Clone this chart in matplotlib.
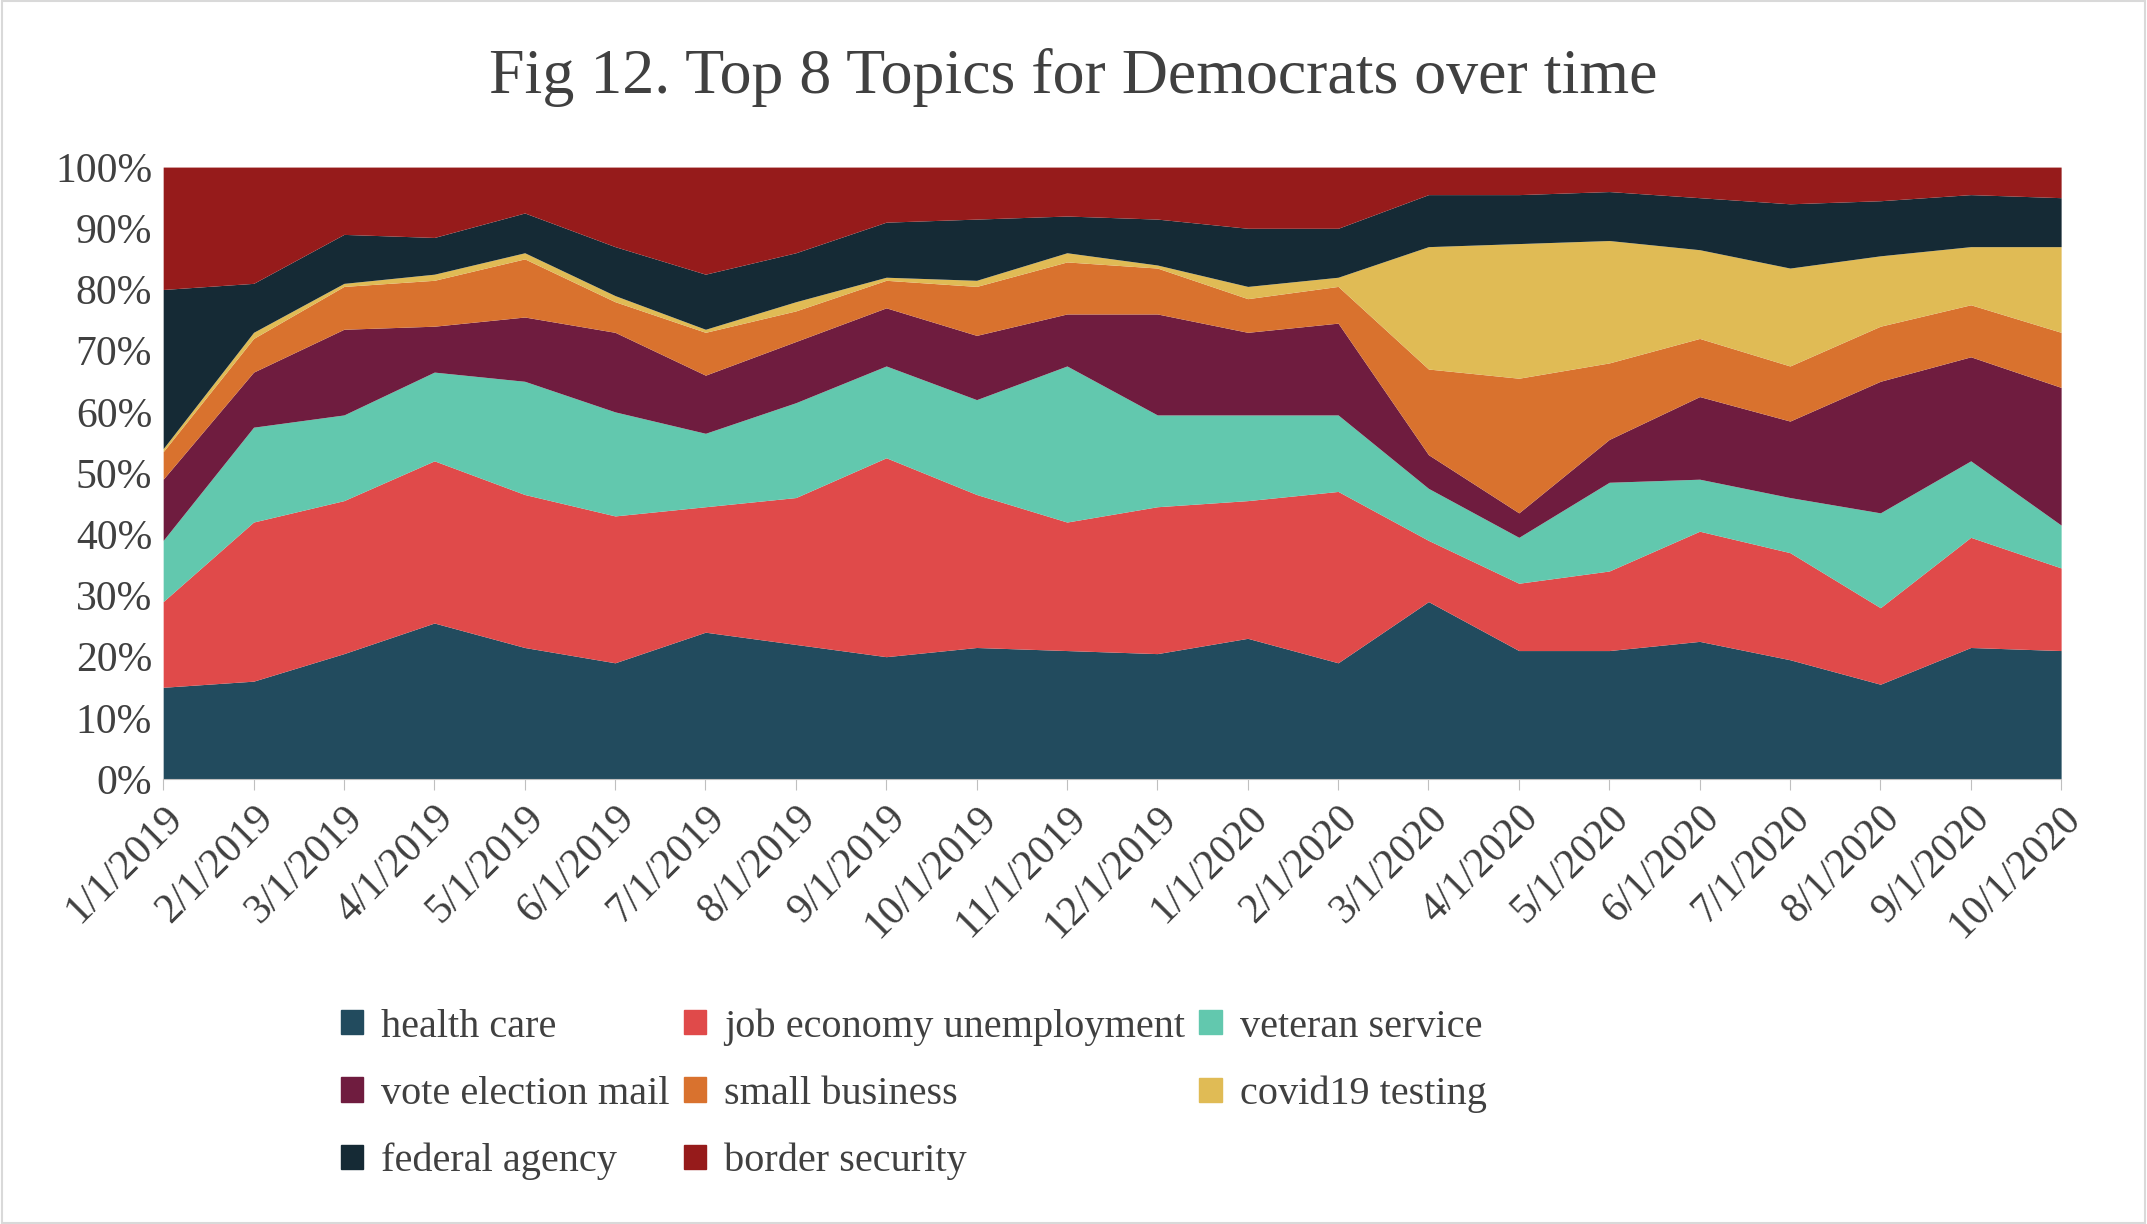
import numpy as np
import matplotlib.pyplot as plt
from matplotlib.patches import Patch, Rectangle

plt.rcParams['font.family'] = ['Liberation Serif', 'DejaVu Serif']

dates = ['1/1/2019', '2/1/2019', '3/1/2019', '4/1/2019', '5/1/2019', '6/1/2019',
         '7/1/2019', '8/1/2019', '9/1/2019', '10/1/2019', '11/1/2019', '12/1/2019',
         '1/1/2020', '2/1/2020', '3/1/2020', '4/1/2020', '5/1/2020', '6/1/2020',
         '7/1/2020', '8/1/2020', '9/1/2020', '10/1/2020']

# cumulative tops (percent)
c_health = [15, 16, 20.5, 25.5, 21.5, 19, 24, 22, 20, 21.5, 21, 20.5, 23, 19, 29, 21, 21, 22.5, 19.5, 15.5, 21.5, 21]
c_job = [29, 42, 45.5, 52, 46.5, 43, 44.5, 46, 52.5, 46.5, 42, 44.5, 45.5, 47, 39, 32, 34, 40.5, 37, 28, 39.5, 34.5]
c_vet = [39, 57.5, 59.5, 66.5, 65, 60, 56.5, 61.5, 67.5, 62, 67.5, 59.5, 59.5, 59.5, 47.5, 39.5, 48.5, 49, 46, 43.5, 52, 41.5]
c_vote = [49, 66.5, 73.5, 74, 75.5, 73, 66, 71.5, 77, 72.5, 76, 76, 73, 74.5, 53, 43.5, 55.5, 62.5, 58.5, 65, 69, 64]
c_small = [53.5, 72, 80.5, 81.5, 85, 78, 73, 76.5, 81.5, 80.5, 84.5, 83.5, 78.5, 80.5, 67, 65.5, 68, 72, 67.5, 74, 77.5, 73]
c_covid = [54, 73, 81, 82.5, 86, 79, 73.5, 78, 82, 81.5, 86, 84, 80.5, 82, 87, 87.5, 88, 86.5, 83.5, 85.5, 87, 87]
c_fed = [80, 81, 89, 88.5, 92.5, 87, 82.5, 86, 91, 91.5, 92, 91.5, 90, 90, 95.5, 95.5, 96, 95, 94, 94.5, 95.5, 95]
c_border = [100] * len(dates)

topics = ['health care', 'job economy unemployment', 'veteran service', 'vote election mail',
          'small business', 'covid19 testing', 'federal agency', 'border security']
colors = ['#224b5e', '#e04a4a', '#62c8ae', '#6f1c3f', '#d9722e', '#e0bb55', '#152a35', '#961b1b']
tops = [c_health, c_job, c_vet, c_vote, c_small, c_covid, c_fed, c_border]

fig = plt.figure(figsize=(21.47, 12.24), dpi=100)
ax = fig.add_axes([0.076, 0.3635, 0.884, 0.5])
x = np.arange(len(dates))
prev = np.zeros(len(dates))
for top, col in zip(tops, colors):
    top = np.array(top, dtype=float)
    ax.fill_between(x, prev, top, color=col, linewidth=0)
    prev = top

ax.set_xlim(0, len(dates) - 1)
ax.set_ylim(0, 100)
ax.set_yticks(range(0, 101, 10))
ax.set_yticklabels([f'{v}%' for v in range(0, 101, 10)], fontsize=30, color='#404040')
ax.tick_params(axis='y', length=0, pad=8)
ax.set_xticks(x)
ax.set_xticklabels(dates, rotation=45, ha='right', rotation_mode='anchor', fontsize=30, color='#404040')
ax.tick_params(axis='x', length=8, color='#bfbfbf', pad=6)
for s in ['top', 'right', 'left']:
    ax.spines[s].set_visible(False)
ax.spines['bottom'].set_color('#bfbfbf')

fig.text(0.5, 0.937, 'Fig 12. Top 8 Topics for Democrats over time', ha='center', va='center',
         fontsize=46, color='#404040')

handles = [Patch(color=c) for c in colors]
order = [0, 3, 6, 1, 4, 7, 2, 5]
fig.legend([handles[i] for i in order], [topics[i] for i in order], ncol=3,
           loc='center left', bbox_to_anchor=(0.142, 0.106), frameon=False, fontsize=29,
           labelcolor='#404040', handlelength=0.55, handleheight=0.55, columnspacing=0.35,
           handletextpad=0.45, labelspacing=0.75)
fig.patches.append(Rectangle((0.001, 0.001), 0.998, 0.998, transform=fig.transFigure,
                             fill=False, edgecolor='#d9d9d9', linewidth=1.5))
fig.savefig('out.png', dpi=100)
